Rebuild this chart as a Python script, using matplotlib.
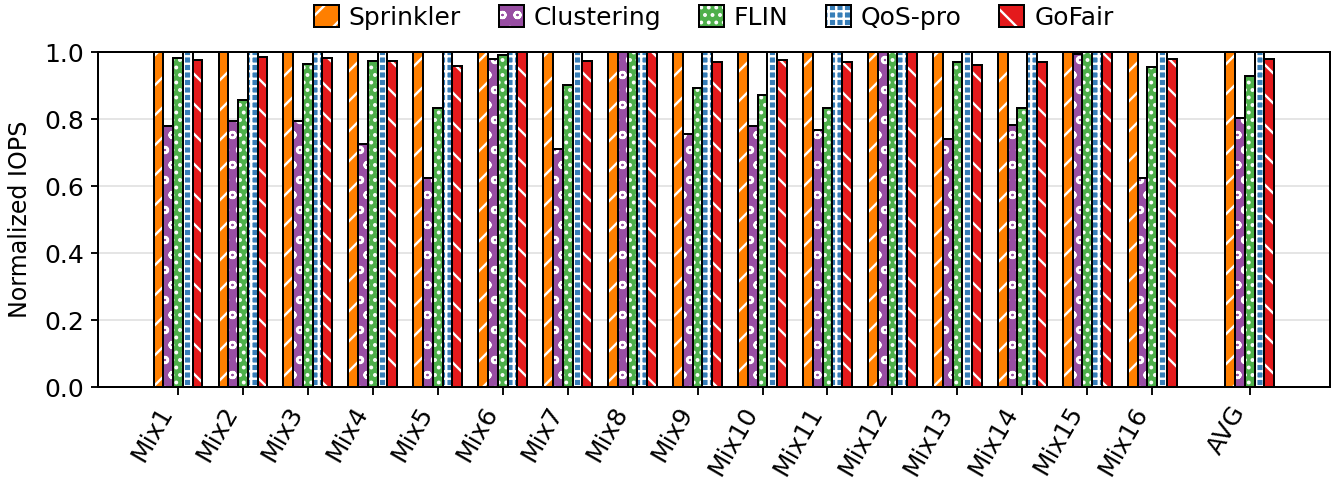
import numpy as np
import matplotlib
matplotlib.use("Agg")
import matplotlib.pyplot as plt

labels = ["Mix1", "Mix2", "Mix3", "Mix4", "Mix5", "Mix6", "Mix7", "Mix8",
          "Mix9", "Mix10", "Mix11", "Mix12", "Mix13", "Mix14", "Mix15", "Mix16", "AVG"]

sprinkler = [1.0] * 17
clustering = [0.779, 0.794, 0.794, 0.725, 0.623, 0.981, 0.712, 1.0,
              0.755, 0.780, 0.769, 1.0, 0.741, 0.784, 0.996, 0.623, 0.805]
flin = [0.984, 0.857, 0.964, 0.974, 0.832, 0.993, 0.903, 1.0,
        0.894, 0.872, 0.832, 1.0, 0.970, 0.834, 1.0, 0.956, 0.928]
qos_pro = [1.0] * 17
gofair = [0.978, 0.986, 0.983, 0.973, 0.958, 1.0, 0.974, 1.0,
          0.972, 0.976, 0.972, 1.0, 0.963, 0.970, 1.0, 0.981, 0.979]

series = [
    ("Sprinkler", sprinkler, "#ff7f00", "/"),
    ("Clustering", clustering, "#984ea3", "o"),
    ("FLIN", flin, "#4daf4a", ".."),
    ("QoS-pro", qos_pro, "#377eb8", "++"),
    ("GoFair", gofair, "#e41a1c", "\\"),
]

plt.rcParams["font.size"] = 20
plt.rcParams["hatch.linewidth"] = 1.9

dpi = 90
fig = plt.figure(figsize=(1343 / dpi, 479 / dpi), dpi=dpi)
ax = fig.add_axes([0.073, 0.192, 0.917, 0.699])

x = np.arange(len(labels), dtype=float)
x[-1] = x[-2] + 1.5
width = 0.15

handles = []
for i, (name, vals, color, hatch) in enumerate(series):
    pos = x + (i - 2) * width
    # white hatch on the colour, then a black outline on top
    filled = ax.bar(pos, vals, width, color=color, hatch=hatch,
                    edgecolor="white", linewidth=0, zorder=3)
    outline = ax.bar(pos, vals, width, fill=False,
                     edgecolor="black", linewidth=1.6, zorder=4)
    handles.append((filled[0], outline[0]))

ax.set_ylim(0, 1.0)
ax.set_xlim(-1.23, x[-1] + 1.23)
ax.set_yticks(np.arange(0, 1.01, 0.2))
ax.set_yticklabels([f"{v:.1f}" for v in np.arange(0, 1.01, 0.2)])
ax.set_xticks(x)
ax.set_xticklabels(labels, rotation=60, ha="right")
ax.set_ylabel("Normalized IOPS", fontsize=19, labelpad=10)
ax.grid(axis="y", color="#dddddd", linewidth=1.2, zorder=0)
ax.tick_params(length=6, width=1.5)
ax.tick_params(axis="x", pad=6)
ax.tick_params(axis="y", pad=5)
for s in ax.spines.values():
    s.set_linewidth(1.6)

ax.legend(handles, [s[0] for s in series], loc="lower center",
          bbox_to_anchor=(0.5, 1.03), ncol=5, frameon=False,
          handlelength=1.0, handleheight=1.0, columnspacing=1.5,
          handletextpad=0.4, borderaxespad=0.1)

fig.savefig("out.png", dpi=dpi)
